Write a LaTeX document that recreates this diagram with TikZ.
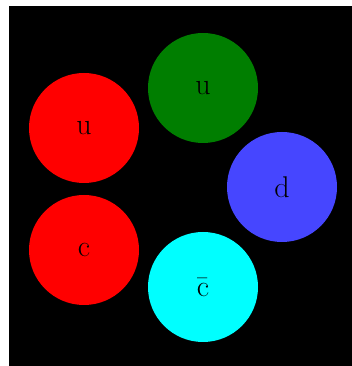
\documentclass[tikz,border=0pt]{standalone}
\usepackage{xcolor}
\usepackage{tikz}
\usetikzlibrary{positioning}
\definecolor{qgreen}{RGB}{0,126,0}
\definecolor{qblue}{RGB}{70,70,255}
\definecolor{qcyan}{RGB}{0,255,255}
\begin{document}
\begin{tikzpicture}[x=1pt,y=1pt,quark/.style={circle,minimum size=110pt,inner sep=0pt,font=\fontsize{30}{32}\selectfont}]
\fill[white] (0,0) rectangle (352,366);
\fill[black] (9,0) rectangle (352,360);
\node[quark,fill=qgreen] (ug) at (203,278) {u};
\node[quark,fill=red] (ur) at (84,238) {u};
\node[quark,fill=qblue] (db) at (282,179) {d};
\node[quark,fill=red] (cr) at (84,116) {c};
\node[quark,fill=qcyan] (cbar) at (203,79) {\={c}};
\end{tikzpicture}
\end{document}
